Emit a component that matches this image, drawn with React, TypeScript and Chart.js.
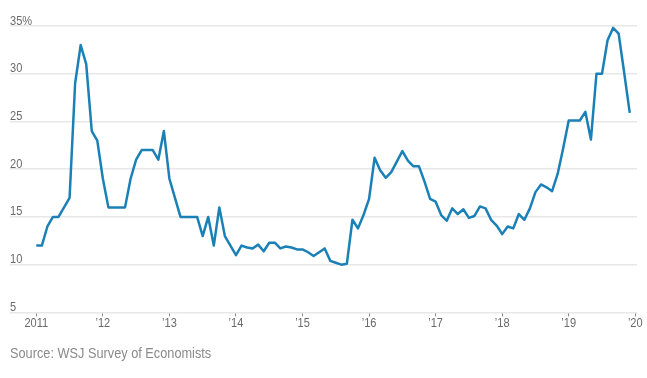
import React, { useEffect, useRef } from "react";
import { Chart, registerables } from "chart.js";

Chart.register(...registerables);

// Monthly recession probability, Jan 2011 .. Dec 2019 (percent)
const recessionProbability: number[] = [
  // 2011
  12, 12, 14, 15, 15, 16, 17, 29, 33, 31, 24, 23,
  // 2012
  19, 16, 16, 16, 16, 19, 21, 22, 22, 22, 21, 24,
  // 2013
  19, 17, 15, 15, 15, 15, 13, 15, 12, 16, 13, 12,
  // 2014
  11, 12, 11.8, 11.7, 12.1, 11.4, 12.3, 12.3, 11.7, 11.9, 11.8, 11.6,
  // 2015
  11.6, 11.3, 10.9, 11.3, 11.7, 10.4, 10.2, 10.0, 10.1, 14.7, 13.8, 15.2,
  // 2016
  16.9, 21.2, 19.9, 19.1, 19.7, 20.8, 21.9, 20.9, 20.3, 20.3, 18.7, 16.9,
  // 2017
  16.6, 15.2, 14.6, 15.9, 15.3, 15.8, 14.9, 15.1, 16.1, 15.9, 14.7, 14.1,
  // 2018
  13.2, 14.0, 13.8, 15.3, 14.7, 15.9, 17.6, 18.4, 18.1, 17.7, 19.5, 22.2,
  // 2019
  25.1, 25.1, 25.1, 26.0, 23.1, 30.0, 30.0, 33.5, 34.8, 34.2, 30.1, 25.9,
];

// x tick positions (months since Jan 2011) and their labels
const xTickValues: number[] = [0, 12, 24, 36, 48, 60, 72, 84, 96, 108];
const xTickLabels: string[] = ["2011", "\u201912", "\u201913", "\u201914", "\u201915", "\u201916", "\u201917", "\u201918", "\u201919", "\u201920"];

// y ticks
const yTickValues: number[] = [5, 10, 15, 20, 25, 30, 35];
const yTickLabels: string[] = ["5", "10", "15", "20", "25", "30", "35%"];

const sourceText = "Source: WSJ Survey of Economists";

const FONT = "'Liberation Sans', Arial, sans-serif";
const LABEL_COLOR = "#6a6a6a";
const SQUEEZE = 0.85;

// Draws the tick labels horizontally condensed (the original uses a narrow face)
const condensedLabels = {
  id: "condensedLabels",
  afterDraw(chart: any) {
    const ctx = chart.ctx as CanvasRenderingContext2D;
    const xs = chart.scales.x;
    const ys = chart.scales.y;
    ctx.save();
    ctx.fillStyle = LABEL_COLOR;
    ctx.font = `13px ${FONT}`;
    ctx.textBaseline = "alphabetic";
    ctx.textAlign = "center";
    xTickValues.forEach((v, i) => {
      const px = xs.getPixelForValue(v);
      ctx.save();
      ctx.translate(px, xs.top + 15);
      ctx.scale(SQUEEZE, 1);
      ctx.fillText(xTickLabels[i], 0, 0);
      ctx.restore();
    });
    ctx.textAlign = "left";
    yTickValues.forEach((v, i) => {
      const py = ys.getPixelForValue(v);
      ctx.save();
      ctx.translate(chart.chartArea.left, py - 1.5);
      ctx.scale(SQUEEZE, 1);
      ctx.fillText(yTickLabels[i], 0, 0);
      ctx.restore();
    });
    ctx.restore();
  },
};

export default function App() {
  const canvasRef = useRef<HTMLCanvasElement | null>(null);

  useEffect(() => {
    if (!canvasRef.current) return;
    const points = recessionProbability.map((v, i) => ({ x: i, y: v }));
    const chart = new Chart(canvasRef.current, {
      type: "line",
      data: {
        datasets: [
          {
            data: points,
            borderColor: "#1a80b6",
            borderWidth: 2.5,
            pointRadius: 0,
            tension: 0,
            fill: false,
            borderJoinStyle: "round",
          },
        ],
      },
      options: {
        animation: false,
        responsive: false,
        maintainAspectRatio: false,
        layout: { padding: { left: 10, right: 10, top: 26, bottom: 44 } },
        plugins: { legend: { display: false }, tooltip: { enabled: false } },
        scales: {
          x: {
            type: "linear",
            min: -4.742,
            max: 108.31,
            afterBuildTicks: (scale: any) => {
              scale.ticks = xTickValues.map((v) => ({ value: v }));
            },
            ticks: {
              autoSkip: false,
              maxRotation: 0,
              padding: 1,
              color: "rgba(0,0,0,0)",
              font: { family: FONT, size: 13 },
              callback: (v: any) => {
                const idx = xTickValues.indexOf(Number(v));
                return idx >= 0 ? xTickLabels[idx] : "";
              },
            },
            grid: {
              display: true,
              drawOnChartArea: false,
              drawTicks: true,
              tickLength: 4,
              color: "#8a8a8a",
              lineWidth: 1,
            },
            border: { display: false },
          },
          y: {
            type: "linear",
            min: 5,
            max: 35,
            afterBuildTicks: (scale: any) => {
              scale.ticks = yTickValues.map((v) => ({ value: v }));
            },
            ticks: {
              mirror: true,
              padding: 0,
              color: "rgba(0,0,0,0)",
              font: { family: FONT, size: 13 },
              callback: (v: any) => {
                const idx = yTickValues.indexOf(Number(v));
                return idx >= 0 ? yTickLabels[idx] : "";
              },
            },
            grid: {
              color: "#e8e8e8",
              lineWidth: 1.5,
              drawTicks: false,
            },
            border: { display: false },
          },
        },
      },
      plugins: [condensedLabels],
    });
    return () => chart.destroy();
  }, []);

  return (
    <div style={{ position: "fixed", left: 0, top: 0, width: 647, height: 378, background: "#fff" }}>
      <canvas ref={canvasRef} width={647} height={378} style={{ position: "absolute", left: 0, top: 0, width: 647, height: 378 }} />
      <div
        style={{
          position: "absolute",
          left: 10,
          top: 345,
          fontFamily: FONT,
          fontSize: 15,
          lineHeight: "15px",
          color: "#8a8a8a",
          whiteSpace: "nowrap",
          transform: `scaleX(${SQUEEZE})`,
          transformOrigin: "left top",
        }}
      >
        {sourceText}
      </div>
    </div>
  );
}
